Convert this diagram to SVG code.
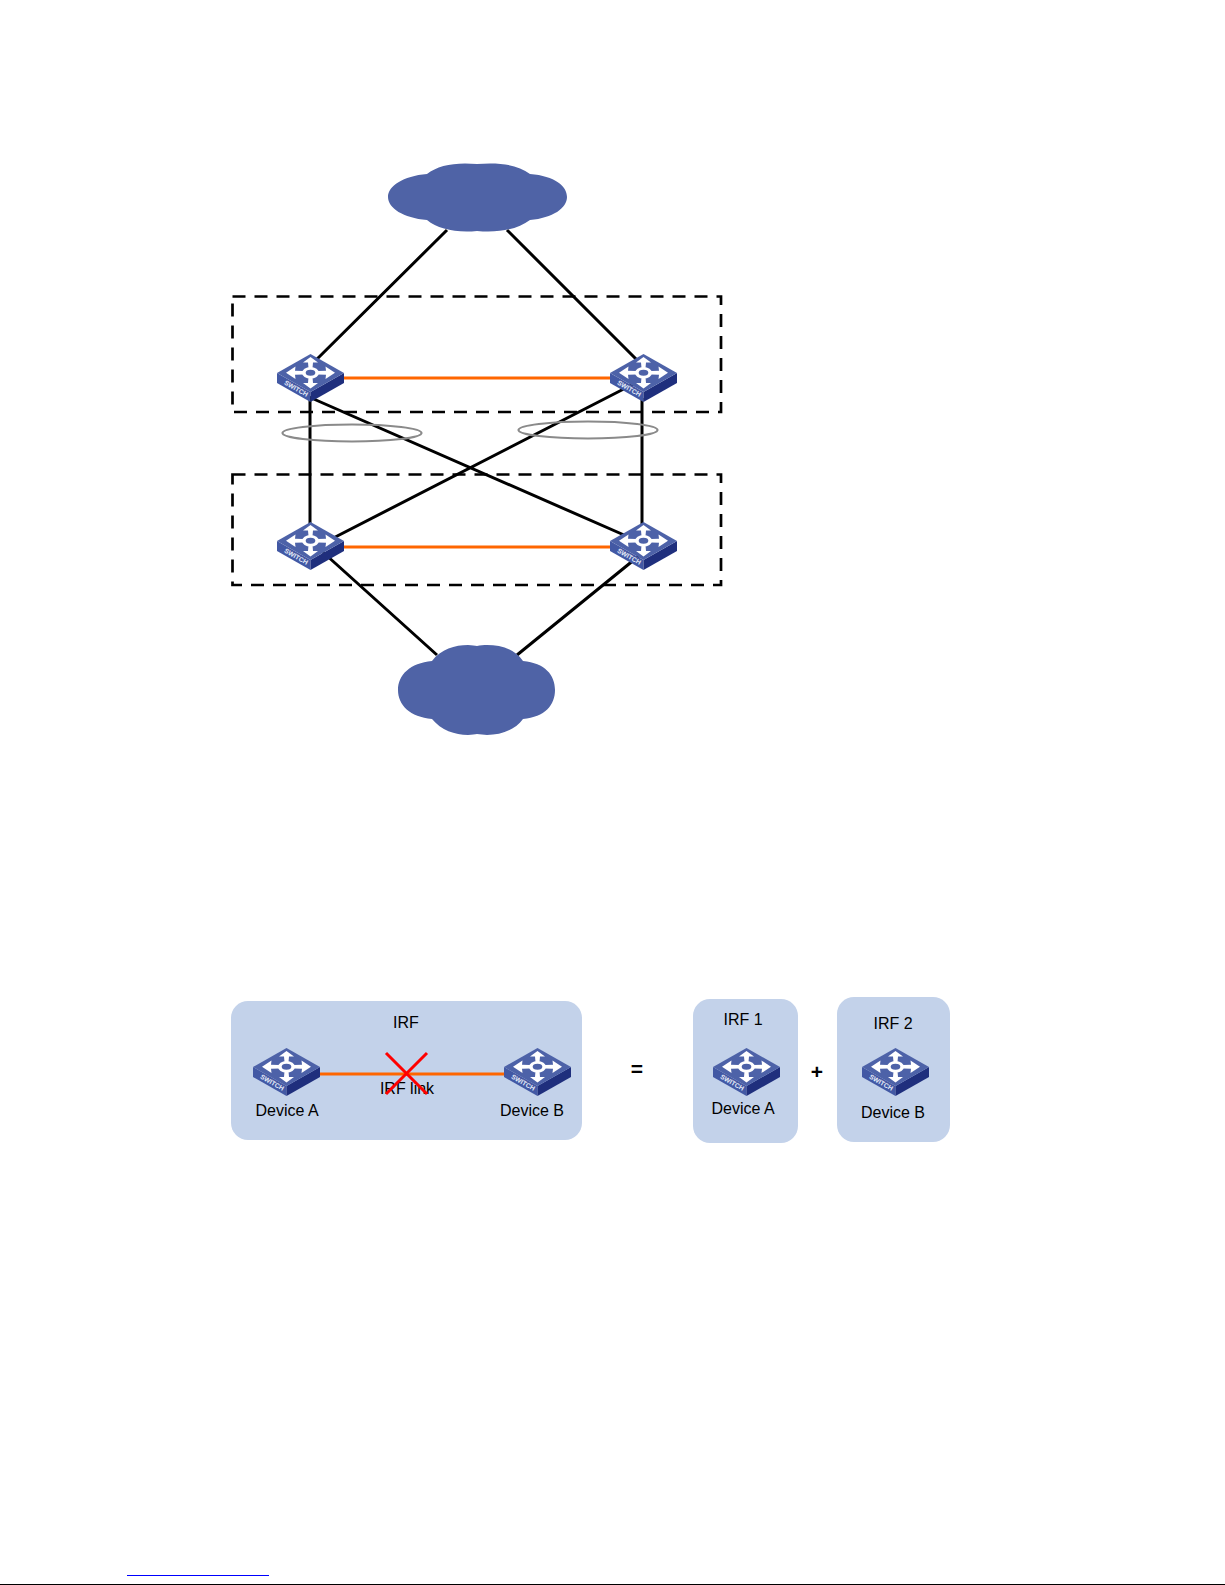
<svg xmlns="http://www.w3.org/2000/svg" width="1225" height="1585" viewBox="0 0 1225 1585">
<style>
.k{stroke:#000;stroke-width:3;fill:none}
.o{stroke:#f60;stroke-width:3;fill:none}
.d{stroke:#000;stroke-width:2.700;fill:none;stroke-dasharray:13 9}
.e{stroke:#8a8a8a;stroke-width:2.200;fill:none}
.c{fill:#4f63a6}
.p{fill:#c3d2ea}
.x{stroke:#f00;stroke-width:3;fill:none}
text{font-family:"Liberation Sans",Arial,sans-serif;font-size:16px;fill:#000;text-anchor:middle}
.s{font-size:6.600px;font-weight:bold;fill:#e3e9f6;text-anchor:middle}
.b{font-size:21px;font-weight:bold}
</style>
<defs>
<g id="sw">
<path d="M0 19 L33.500 38 L33.500 48 L0 29 Z" fill="#4258a4"/>
<path d="M33.500 38 L67 19 L67 29 L33.500 48 Z" fill="#1f2f7d"/>
<path d="M33.500 0 L67 19 L33.500 38 L0 19 Z" fill="#4d62a8"/>
<g fill="#fff">
<path d="M33.500 3 L41 8.500 L36 8.500 L35.500 14 L31.500 14 L31 8.500 L26 8.500 Z"/>
<path d="M33.500 34.500 L41 29 L36 29 L35.500 23 L31.500 23 L31 29 L26 29 Z"/>
<path d="M9 18.800 L18.500 12.500 L18 16.800 L26 17 L26 20.600 L18 20.800 L18.500 25 Z"/>
<path d="M58 18.800 L48.500 12.500 L49 16.800 L41 17 L41 20.600 L49 20.800 L48.500 25 Z"/>
<ellipse cx="33.500" cy="18.800" rx="8.500" ry="5.800"/>
</g>
<ellipse cx="33.500" cy="18.800" rx="4.800" ry="3" fill="#4d62a8"/>
<text class="s" transform="translate(18 36.500) rotate(30)">SWITCH</text>
</g>
</defs>
<g id="connectors">
<path class="k" d="M447 230L310 366M507 230L644 367M310 398V530M642 398V530M300 393L640 542M650 375.500L310 550M315 545L437 655M640 555L517 655"/>
<path class="o" d="M340 378H614M340 547H614"/>
</g>
<g id="group-top"><rect class="d" x="232.500" y="296.500" width="488.500" height="115.500"/></g>
<g id="group-bottom"><rect class="d" x="232.500" y="474.500" width="488.500" height="110.500"/></g>
<g id="aggregate-left"><ellipse class="e" cx="352" cy="433" rx="69.500" ry="8.500"/></g>
<g id="aggregate-right"><ellipse class="e" cx="588" cy="430" rx="69.500" ry="8.500"/></g>
<g id="cloud-top"><path class="c" d="M427 174C438 165 456 162 477 164C500 162 518 165 530 174C555 176 567 186 567 197C567 208 553 218 530 220C518 229 500 233 477 231C456 233 438 229 427 220C403 218 388 208 388 197C388 186 403 176 427 174Z"/></g>
<g id="cloud-bottom"><path class="c" d="M432 661C441 649 455 645 468 645C472 645 475 646 477 646C480 645 484 645 487 645C501 645 515 649 523 661C545 663 555 675 555 690C555 705 545 717 523 719C515 730 501 735 487 735C484 735 480 734 477 734C475 734 472 735 468 735C455 735 441 730 432 719C410 717 398 705 398 690C398 675 410 663 432 661Z"/></g>
<g id="switch-1"><use href="#sw" x="277" y="354"/></g>
<g id="switch-2"><use href="#sw" x="610" y="354"/></g>
<g id="switch-3"><use href="#sw" x="277" y="522"/></g>
<g id="switch-4"><use href="#sw" x="610" y="522"/></g>
<g id="panel-irf"><rect class="p" x="231" y="1001" width="351" height="139" rx="17"/><text x="406" y="1028">IRF</text></g>
<g id="panel-irf1"><rect class="p" x="693" y="999" width="105" height="144" rx="17"/><text x="743" y="1025">IRF 1</text></g>
<g id="panel-irf2"><rect class="p" x="837" y="997" width="113" height="145" rx="17"/><text x="893" y="1029">IRF 2</text></g>
<g id="irf-link"><path class="o" d="M320 1074H504"/><text x="407" y="1094">IRF link</text><path class="x" d="M386 1053L427 1094M427 1053L386 1094"/></g>
<g id="device-a"><use href="#sw" x="253" y="1048"/><text x="287" y="1116">Device A</text></g>
<g id="device-b"><use href="#sw" x="504" y="1048"/><text x="532" y="1116">Device B</text></g>
<g id="device-a2"><use href="#sw" x="713" y="1048"/><text x="743" y="1114">Device A</text></g>
<g id="device-b2"><use href="#sw" x="862" y="1048"/><text x="893" y="1118">Device B</text></g>
<text class="b" x="637" y="1076">=</text>
<text class="b" x="817" y="1079">+</text>
<path d="M127 1575.500H269" stroke="#00f" stroke-width="1"/>
<path d="M0 1584.500H1225" stroke="#000" stroke-width="1"/>
</svg>
